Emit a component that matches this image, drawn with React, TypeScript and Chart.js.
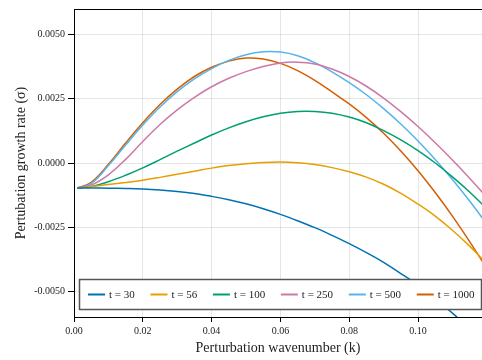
import React, { useEffect, useRef } from "react";
import { Chart, registerables } from "chart.js";

Chart.register(...registerables);

const kValues = [0.001, 0.005, 0.01, 0.015, 0.02, 0.025, 0.03, 0.035, 0.04, 0.045, 0.05, 0.055, 0.06, 0.065, 0.07, 0.075, 0.08, 0.085, 0.09, 0.095, 0.1, 0.105, 0.11, 0.115, 0.12];

const sigmaT30 = [-0.00097, -0.00097, -0.00098, -0.00099, -0.00101, -0.00105, -0.00111, -0.00119, -0.0013, -0.00143, -0.00159, -0.00178, -0.002, -0.00225, -0.00252, -0.00282, -0.00314, -0.00349, -0.00387, -0.00431, -0.00475, -0.00528, -0.00585, -0.00645, -0.0071];
const sigmaT56 = [-0.00097, -0.00092, -0.00084, -0.00076, -0.00067, -0.00056, -0.00044, -0.00032, -0.0002, -0.0001, -0.00003, 0.00002, 0.00004, 0.00001, -0.00006, -0.00018, -0.00034, -0.00055, -0.00083, -0.00118, -0.0016, -0.00207, -0.00262, -0.00324, -0.00392];
const sigmaT100 = [-0.00097, -0.00092, -0.00073, -0.00048, -0.00019, 0.00013, 0.00046, 0.00078, 0.00109, 0.00137, 0.00161, 0.0018, 0.00194, 0.00201, 0.00201, 0.00194, 0.00179, 0.00157, 0.00126, 0.0009, 0.00048, 0.0, -0.00054, -0.00113, -0.00178];
const sigmaT250 = [-0.00097, -0.00086, -0.00046, 0.00014, 0.00084, 0.0015, 0.00207, 0.00256, 0.00297, 0.0033, 0.00356, 0.00376, 0.0039, 0.00393, 0.00386, 0.00366, 0.00337, 0.00299, 0.00253, 0.002, 0.00142, 0.00079, 0.00012, -0.00059, -0.00134];
const sigmaT500 = [-0.00097, -0.0008, -0.0001, 0.0007, 0.00148, 0.00218, 0.00278, 0.00328, 0.00368, 0.004, 0.00422, 0.00433, 0.00432, 0.00418, 0.00391, 0.00355, 0.00313, 0.00266, 0.00212, 0.00152, 0.00086, 0.00014, -0.00064, -0.00148, -0.00238];
const sigmaT1000 = [-0.00097, -0.00075, -0.00005, 0.00078, 0.00157, 0.00228, 0.00288, 0.00337, 0.00373, 0.00397, 0.00409, 0.00405, 0.00388, 0.0036, 0.00322, 0.00277, 0.0023, 0.00177, 0.00116, 0.00047, -0.0003, -0.00115, -0.00207, -0.00306, -0.0041];

const seriesLabels = ["t = 30", "t = 56", "t = 100", "t = 250", "t = 500", "t = 1000"];
const seriesValues = [sigmaT30, sigmaT56, sigmaT100, sigmaT250, sigmaT500, sigmaT1000];
const seriesColors = ["#0072B2", "#E69F00", "#009E73", "#CC79A7", "#56B4E9", "#D55E00"];

const xTicks = [0, 0.02, 0.04, 0.06, 0.08, 0.1];
const yTicks = [-0.005, -0.0025, 0, 0.0025, 0.005];

const xTitle = "Perturbation wavenumber (k)";
const yTitle = "Pertubation growth rate (σ)";

const FONT = "'Liberation Serif', 'DejaVu Serif', serif";

const framePlugin = {
  id: "frame",
  afterDraw(chart: any) {
    const { ctx, chartArea } = chart;
    ctx.save();
    // top spine
    ctx.strokeStyle = "#000";
    ctx.lineWidth = 1;
    ctx.beginPath();
    ctx.moveTo(chartArea.left, chartArea.top + 0.5);
    ctx.lineTo(chartArea.right, chartArea.top + 0.5);
    ctx.stroke();

    // legend box
    const bx = chartArea.left + 5.5;
    const by = 279.5;
    const bw = chartArea.right - bx - 0.5;
    const bh = 30;
    ctx.fillStyle = "#fff";
    ctx.fillRect(bx, by, bw, bh);
    ctx.strokeStyle = "#555";
    ctx.lineWidth = 1.5;
    ctx.strokeRect(bx, by, bw, bh);

    ctx.font = "11px " + FONT;
    ctx.textBaseline = "middle";
    ctx.textAlign = "left";
    const datasets = chart.data.datasets;
    const lineLen = 17;
    const textGap = 4;
    const startX = bx + 8.5;
    const endX = bx + bw - 7;
    const widths = datasets.map((d: any) => ctx.measureText(d.label).width);
    const totalText = widths.reduce((a: number, b: number) => a + b, 0);
    const gap = (endX - startX - datasets.length * (lineLen + textGap) - totalText) / (datasets.length - 1);
    let x = startX;
    const cy = by + bh / 2;
    datasets.forEach((d: any, i: number) => {
      ctx.strokeStyle = d.borderColor;
      ctx.lineWidth = 2;
      ctx.beginPath();
      ctx.moveTo(x, cy);
      ctx.lineTo(x + lineLen, cy);
      ctx.stroke();
      ctx.fillStyle = "#222";
      ctx.fillText(d.label, x + lineLen + textGap, cy + 0.5);
      x += lineLen + textGap + widths[i] + gap;
    });
    ctx.restore();
  },
};

export default function App() {
  const canvasRef = useRef<HTMLCanvasElement | null>(null);

  useEffect(() => {
    if (!canvasRef.current) return;
    const datasets = seriesValues.map((vals, i) => ({
      label: seriesLabels[i],
      data: kValues.map((k, j) => ({ x: k, y: vals[j] })),
      borderColor: seriesColors[i],
      backgroundColor: seriesColors[i],
      borderWidth: 1.5,
      pointRadius: 0,
      tension: 0.4,
      fill: false,
    }));

    const chart = new Chart(canvasRef.current, {
      type: "line",
      data: { datasets },
      plugins: [framePlugin],
      options: {
        responsive: false,
        animation: false,
        layout: { padding: { top: 8, right: 0, left: 0, bottom: 0 } },
        plugins: {
          legend: { display: false },
          tooltip: { enabled: false },
        },
        scales: {
          x: {
            type: "linear",
            min: 0,
            max: 0.1186,
            afterBuildTicks: (scale: any) => {
              scale.ticks = xTicks.map((v) => ({ value: v }));
            },
            afterFit: (scale: any) => {
              scale.height = 43;
            },
            ticks: {
              callback: (v: any) => Number(v).toFixed(2),
              font: { family: FONT, size: 10 },
              color: "#222",
              padding: 3,
              maxRotation: 0,
            },
            grid: {
              color: "rgba(0,0,0,0.1)",
              lineWidth: 1,
              tickLength: 5,
              tickColor: "#000",
            },
            border: { color: "#000", width: 1 },
            title: {
              display: true,
              text: xTitle,
              font: { family: FONT, size: 14 },
              color: "#222",
              padding: { top: 0, bottom: 3 },
            },
          },
          y: {
            type: "linear",
            min: -0.006,
            max: 0.006,
            afterBuildTicks: (scale: any) => {
              scale.ticks = yTicks.map((v) => ({ value: v }));
            },
            afterFit: (scale: any) => {
              scale.width = 74;
            },
            ticks: {
              callback: (v: any) => Number(v).toFixed(4),
              font: { family: FONT, size: 10 },
              color: "#222",
              padding: 3,
            },
            grid: {
              color: "rgba(0,0,0,0.1)",
              lineWidth: 1,
              tickLength: 6,
              tickColor: "#000",
            },
            border: { color: "#000", width: 1 },
            title: {
              display: true,
              text: yTitle,
              font: { family: FONT, size: 14 },
              color: "#222",
              padding: { top: 13, bottom: 0 },
            },
          },
        },
      },
    } as any);

    return () => chart.destroy();
  }, []);

  return (
    <div style={{ position: "fixed", left: 0, top: 0, width: 482, height: 360, background: "#fff" }}>
      <canvas ref={canvasRef} width={482} height={360} style={{ display: "block" }} />
    </div>
  );
}
